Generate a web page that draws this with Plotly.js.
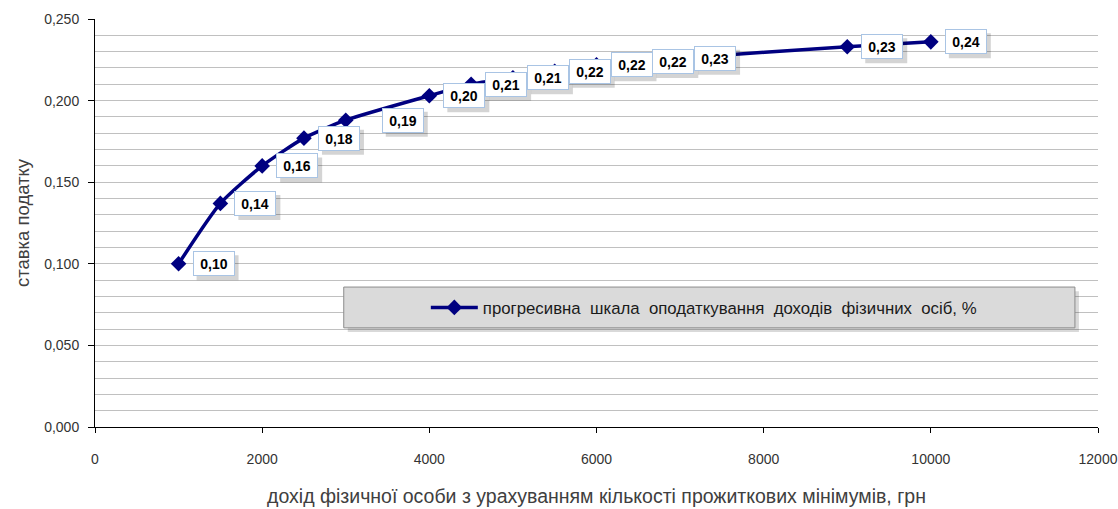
<!DOCTYPE html>
<html>
<head>
<meta charset="utf-8">
<script src="https://cdn.plot.ly/plotly-3.0.1.min.js"></script>
<style>
  html, body { margin: 0; padding: 0; background: #ffffff; }
  #chart { width: 1118px; height: 509px; }
</style>
</head>
<body>
<div id="chart"></div>
<script>
// ---- data ----
const incomes = [1000, 1500, 2000, 2500, 3000, 4000, 4500, 5000, 5500, 6000, 6500, 7000, 9000, 10000];
const rates   = [0.100, 0.137, 0.160, 0.177, 0.188, 0.203, 0.210, 0.214, 0.218, 0.222, 0.224, 0.226, 0.233, 0.236];
const seriesName = 'прогресивна  шкала  оподаткування  доходів  фізичних  осіб, %';
const xTitle = 'дохід фізичної особи з урахуванням кількості прожиткових мінімумів, грн';
const yTitle = 'ставка податку';

const FONT = 'Arial, "Liberation Sans", sans-serif';
const NAVY = '#000080';

function fmtLabel(v) { return v.toFixed(2).replace('.', ','); }

// data labels (box) and their drop shadows (pixel-sized shapes anchored to the data point)
const BOX_W = 42, BOX_H = 25;
const annotations = [];
const labelShadows = [];
incomes.forEach((x, i) => {
  const shift = (i === 4) ? 36 : 14;
  annotations.push({
    x: x, y: rates[i], xref: 'x', yref: 'y',
    text: fmtLabel(rates[i]), showarrow: false,
    xanchor: 'left', yanchor: 'middle',
    xshift: shift, yshift: 0,
    width: BOX_W - 4, height: BOX_H - 4, borderpad: 1,
    bgcolor: '#ffffff', bordercolor: '#a9c4e4', borderwidth: 1,
    font: { family: FONT, size: 14, color: '#000000', weight: 'bold' }
  });
  labelShadows.push({
    type: 'rect', layer: 'above',
    xref: 'x', yref: 'y', xsizemode: 'pixel', ysizemode: 'pixel',
    xanchor: x, yanchor: rates[i],
    x0: shift + 4, x1: shift + 4 + BOX_W,
    y0: -BOX_H / 2 - 4, y1: BOX_H / 2 - 4,
    fillcolor: 'rgba(0,0,0,0.17)', line: { width: 0 }
  });
});

const trace = {
  type: 'scatter', mode: 'lines+markers',
  x: incomes, y: rates, name: seriesName,
  line: { color: NAVY, width: 3.5, shape: 'spline', smoothing: 0.6 },
  marker: { symbol: 'diamond', size: 12, color: NAVY }
};

const layout = {
  width: 1118, height: 509,
  margin: { l: 95, r: 20, t: 19, b: 82 },
  paper_bgcolor: '#ffffff', plot_bgcolor: '#ffffff',
  separators: ', ',
  font: { family: FONT, color: '#333333' },
  showlegend: true,
  legend: {
    x: 0.607, y: 0.293, xanchor: 'center', yanchor: 'middle',
    bgcolor: 'rgba(0,0,0,0)', borderwidth: 0,
    font: { family: FONT, size: 16.8, color: '#1a1a1a' },
    itemwidth: 47
  },
  xaxis: {
    range: [0, 12000], dtick: 2000, tick0: 0, tickformat: 'd',
    showgrid: false, zeroline: false,
    showline: true, linecolor: '#000000', linewidth: 1,
    ticks: 'outside', ticklen: 5, tickcolor: '#000000',
    ticklabelstandoff: 14,
    tickfont: { family: FONT, size: 14, color: '#333333' },
    title: { text: xTitle, standoff: 23, font: { family: FONT, size: 19.5, color: '#404040' } },
    automargin: false
  },
  yaxis: {
    range: [0, 0.25], dtick: 0.05, tick0: 0, tickformat: '.3f',
    showgrid: true, gridcolor: '#c0c0c0', gridwidth: 1,
    minor: { dtick: 0.01, showgrid: true, gridcolor: '#c0c0c0', gridwidth: 1 },
    zeroline: false,
    showline: true, linecolor: '#000000', linewidth: 1,
    ticks: 'outside', ticklen: 6, tickcolor: '#000000',
    ticklabelstandoff: 6,
    tickfont: { family: FONT, size: 14, color: '#333333' },
    title: { text: yTitle, standoff: 9, font: { family: FONT, size: 18.5, color: '#404040' } },
    automargin: false
  },
  shapes: [
    { type: 'rect', xref: 'paper', yref: 'paper',
      x0: 0.252, x1: 0.981, y0: 0.233, y1: 0.333,
      fillcolor: 'rgba(0,0,0,0.15)', line: { width: 0 } },
    { type: 'rect', xref: 'paper', yref: 'paper',
      x0: 0.248, x1: 0.977, y0: 0.243, y1: 0.343,
      fillcolor: '#dadada', line: { color: '#8c8c8c', width: 1 } }
  ].concat(labelShadows),
  annotations: annotations
};

Plotly.newPlot('chart', [trace], layout, { displayModeBar: false, staticPlot: true });
</script>
</body>
</html>
